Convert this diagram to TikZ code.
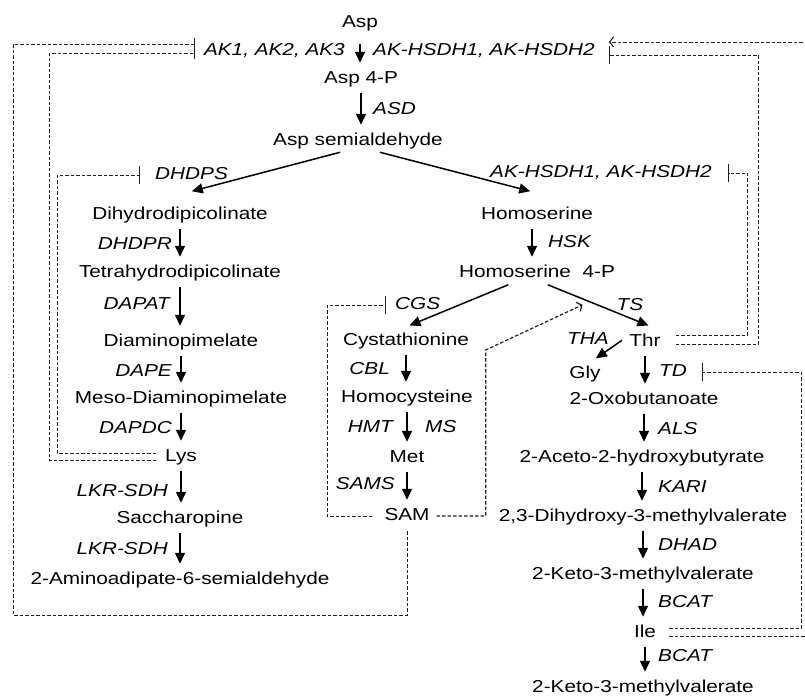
\documentclass[tikz,border=0pt]{standalone}
\usepackage{fontspec}
\setmainfont{Liberation Sans}[FakeStretch=1.2]
\usetikzlibrary{arrows.meta,calc,positioning}
\definecolor{fbc}{RGB}{30,30,30}

\begin{document}
\begin{tikzpicture}[x=1pt,y=-1pt,
  cpd/.style={font=\fontsize{17.3}{20}\selectfont,text height=12.5pt,text depth=3.6pt,inner sep=2pt},
  enz/.style={cpd,font=\fontsize{17.3}{20}\selectfont\itshape},
  rxn/.style={line width=1.5pt,-{Triangle[length=11pt,width=10pt]},shorten <=4pt,shorten >=6pt},
  fb/.style={fbc,line width=1pt,dash pattern=on 3.5pt off 2pt},
  inh/.style={fb,-{Bar[width=#1]}}, inh/.default=18pt,
  act/.style={fb,-{Straight Barb[length=4pt,width=10pt]}}]
  \useasboundingbox (0,0) rectangle (805,696);
  % aspartate trunk
  \node[cpd] (asp) at (360,23) {Asp};
  \node[cpd] (asp4p) at (361,79) {Asp 4-P};
  \node[cpd] (asa) at (358,141) {Asp semialdehyde};
  % lysine branch
  \node[cpd] (dhdp) at (180,215) {Dihydrodipicolinate};
  \node[cpd] (thdp) at (180,273) {Tetrahydrodipicolinate};
  \node[cpd] (dap) at (181,342) {Diaminopimelate};
  \node[cpd] (mdap) at (181,399) {Meso-Diaminopimelate};
  \node[cpd] (lys) at (181,457) {Lys};
  \node[cpd] (sacc) at (180,519) {Saccharopine};
  \node[cpd] (aasa) at (180,580) {2-Aminoadipate-6-semialdehyde};
  % homoserine, methionine, threonine
  \node[cpd] (hser) at (537,215) {Homoserine};
  \node[cpd] (hserp) at (537,273) {Homoserine\ \ 4-P};
  \node[cpd] (cysta) at (406,341) {Cystathionine};
  \node[cpd] (hcys) at (407,398) {Homocysteine};
  \node[cpd] (met) at (407,458) {Met};
  \node[cpd] (sam) at (407,516) {SAM};
  \node[cpd] (thr) at (645,342) {Thr};
  \node[cpd] (gly) at (585,374) {Gly};
  % isoleucine
  \node[cpd] (oxo) at (644,400) {2-Oxobutanoate};
  \node[cpd] (ahb) at (642,458) {2-Aceto-2-hydroxybutyrate};
  \node[cpd] (dhmv) at (643,517) {2,3-Dihydroxy-3-methylvalerate};
  \node[cpd] (kmv) at (643,575) {2-Keto-3-methylvalerate};
  \node[cpd] (ile) at (645,633) {Ile};
  \node[cpd] (kmvb) at (643,688) {2-Keto-3-methylvalerate};
  % enzymes
  \node[enz,anchor=east] (ak) at (347,51) {AK1, AK2, AK3};
  \node[enz,anchor=west] (akh1) at (371,51) {AK-HSDH1, AK-HSDH2};
  \node[enz,anchor=west] (asd) at (371,110) {ASD};
  \node[enz,anchor=west] (dhdps) at (153,175) {DHDPS};
  \node[enz,anchor=west] (akh2) at (488,173) {AK-HSDH1, AK-HSDH2};
  \node[enz,anchor=east] (dhdpr) at (174,245) {DHDPR};
  \node[enz,anchor=east] (dapat) at (172,305) {DAPAT};
  \node[enz,anchor=east] (dape) at (174,372) {DAPE};
  \node[enz,anchor=east] (dapdc) at (174,429) {DAPDC};
  \node[enz,anchor=east] (lkra) at (170,492) {LKR-SDH};
  \node[enz,anchor=east] (lkrb) at (170,550) {LKR-SDH};
  \node[enz,anchor=west] (hsk) at (546,243) {HSK};
  \node[enz,anchor=west] (cgs) at (393,305) {CGS};
  \node[enz] (ts) at (630,306) {TS};
  \node[enz] (tha) at (588,340) {THA};
  \node[enz,anchor=east] (cbl) at (392,370) {CBL};
  \node[enz,anchor=east] (hmt) at (395,428) {HMT};
  \node[enz,anchor=west] (ms) at (423,428) {MS};
  \node[enz,anchor=east] (sams) at (397,485) {SAMS};
  \node[enz,anchor=west] (td) at (657,372) {TD};
  \node[enz,anchor=west] (als) at (656,430) {ALS};
  \node[enz,anchor=west] (kari) at (656,488) {KARI};
  \node[enz,anchor=west] (dhad) at (656,546) {DHAD};
  \node[enz,anchor=west] (bcata) at (656,603) {BCAT};
  \node[enz,anchor=west] (bcatb) at (656,657) {BCAT};
  % reactions
  \foreach \a/\b in {asp4p/asa,dhdp/thdp,thdp/dap,dap/mdap,mdap/lys,lys/sacc,sacc/aasa,
      cysta/hcys,hcys/met,met/sam,thr/oxo,oxo/ahb,ahb/dhmv,dhmv/kmv,kmv/ile,ile/kmvb}
    \draw[rxn] (\a.south) -- (\a.south |- \b.north);
  \draw[rxn,shorten <=11pt] (asp.south) -- (asp.south |- asp4p.north);
  \draw[rxn] ([xshift=-5pt]hser.south) -- ([xshift=-5pt]hser.south |- hserp.north);
  \draw[rxn] ([xshift=-14pt]asa.south) -- ([xshift=6pt,yshift=12pt]dhdp.north);
  \draw[rxn] ([xshift=18pt]asa.south) -- ([xshift=-1pt,yshift=12pt]hser.north);
  \draw[rxn] ([xshift=-25pt]hserp.south) -- ([xshift=-2pt,yshift=3pt]cysta.north);
  \draw[rxn] ([xshift=7pt]hserp.south) -- coordinate[pos=0.35] (tsm) ([xshift=9pt,yshift=4pt]thr.north);
  \draw[rxn] ([xshift=-2pt,yshift=4pt]thr.west) -- ([xshift=6pt,yshift=2pt]gly.north);
  % feedback
  \draw[inh=12pt,shorten <=5pt,shorten >=7pt] (sam.south) |- (13,615) |- ([yshift=7pt]ak.west);
  \draw[inh=12pt,shorten <=7pt,shorten >=7pt] ([yshift=-3pt]lys.west) -- ++(-114,0) |- ([yshift=-2pt]ak.west);
  \draw[inh,shorten <=7pt,shorten >=13pt] ([yshift=4pt]lys.west) -- ++(-106,0) |- (dhdps.west);
  \draw[inh,shorten <=10pt,shorten >=7pt] (sam.west) -- ++(-55,0) |- (cgs.west);
  \draw[act,line width=1.2pt,shorten <=5pt] (sam.east) -- ++(54,0) -- ++(0,-166) -- ([yshift=-6pt]tsm);
  \draw[inh,shorten <=13pt,shorten >=14pt] ([yshift=7pt]thr.east) -- ++(85,0) |- (akh2.east);
  \draw[inh,shorten <=13pt,shorten >=12pt] ([yshift=-2pt]thr.east) -- ++(96,0) |- ([yshift=-4pt]akh1.east);
  \draw[inh,shorten <=11pt,shorten >=13pt] ([yshift=5pt]ile.east) -- ++(143,0) |- (td.east);
  \draw[act,shorten <=11pt,shorten >=12pt] ([yshift=-3pt]ile.east) -- ++(152,0) |- ([yshift=9pt]akh1.east);
\end{tikzpicture}
\end{document}
